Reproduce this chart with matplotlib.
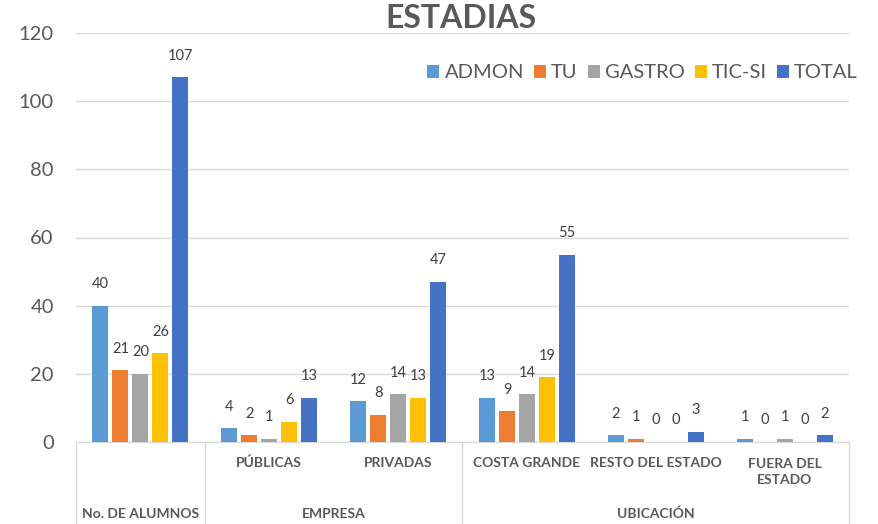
import matplotlib
matplotlib.use("Agg")
import matplotlib.pyplot as plt
import matplotlib.transforms as mtransforms
import numpy as np

plt.rcParams['font.family'] = ['Lato', 'DejaVu Sans']

title = "ESTADIAS"
subcats = ["", "PÚBLICAS", "PRIVADAS", "COSTA GRANDE", "RESTO DEL ESTADO", "FUERA DEL\nESTADO"]
groups = ["No. DE ALUMNOS", "EMPRESA", "UBICACIÓN"]
group_spans = [(0, 0), (1, 2), (3, 5)]
series_names = ["ADMON", "TU", "GASTRO", "TIC-SI", "TOTAL"]
admon = [40, 4, 12, 13, 2, 1]
tu = [21, 2, 8, 9, 1, 0]
gastro = [20, 1, 14, 14, 0, 1]
ticsi = [26, 6, 13, 19, 0, 0]
total = [107, 13, 47, 55, 3, 2]
series = [admon, tu, gastro, ticsi, total]
colors = ["#5B9BD5", "#ED7D31", "#A5A5A5", "#FFC000", "#4472C4"]

W, H = 879, 524
fig = plt.figure(figsize=(W / 100, H / 100), dpi=100)
ax = fig.add_axes([76 / W, (H - 442) / H, (849 - 76) / W, (442 - 33) / H])

x = np.arange(len(subcats))
step = 0.155
width = 0.124
for i, (name, vals, c) in enumerate(zip(series_names, series, colors)):
    pos = x + (i - 2) * step
    ax.bar(pos, vals, width=width, color=c, label=name, zorder=3)
    for p, v in zip(pos, vals):
        ax.annotate(str(v), (p, v), xytext=(0, 10.5), textcoords="offset points",
                    ha="center", va="bottom", fontsize=10.5, color="#404040")

ax.set_xlim(-0.5, len(subcats) - 0.5)
ax.set_ylim(0, 120)
ax.set_yticks(range(0, 121, 20))
ax.tick_params(axis="y", length=0, labelsize=14.5, labelcolor="#595959", pad=16)
ax.tick_params(axis="x", length=0, labelbottom=False)
ax.grid(axis="y", color="#D9D9D9", linewidth=1, zorder=0)
for s in ["left", "right", "top"]:
    ax.spines[s].set_visible(False)
ax.spines["bottom"].set_color("#D9D9D9")

trans = mtransforms.blended_transform_factory(ax.transData, fig.transFigure)
for sx in [-0.5, 0.5, 2.5, 5.5]:
    ax.plot([sx, sx], [(H - 442) / H, 0], color="#D9D9D9", linewidth=1,
            transform=trans, clip_on=False)

for xi, lab in zip(x, subcats):
    if lab:
        ax.text(xi, (H - 472) / H if "\n" in lab else (H - 463) / H, lab,
                transform=trans, ha="center", va="center", fontsize=10,
                fontweight="bold", color="#595959", linespacing=1.35)

for g, (a, b) in zip(groups, group_spans):
    ax.text((a + b) / 2, (H - 514) / H, g, transform=trans, ha="center",
            va="center", fontsize=10, fontweight="bold", color="#595959")

fig.text(461 / W, 1 - 19 / H, title, ha="center", va="center", fontsize=23,
         fontweight="bold", color="#595959")

leg = fig.legend(loc="center right", bbox_to_anchor=(866 / W, 1 - 73 / H), ncol=5,
                 frameon=False, fontsize=14.5, handlelength=0.6, handleheight=0.6,
                 handletextpad=0.25, columnspacing=0.5, borderaxespad=0)
for t in leg.get_texts():
    t.set_color("#595959")

fig.savefig("out.png", dpi=100)
